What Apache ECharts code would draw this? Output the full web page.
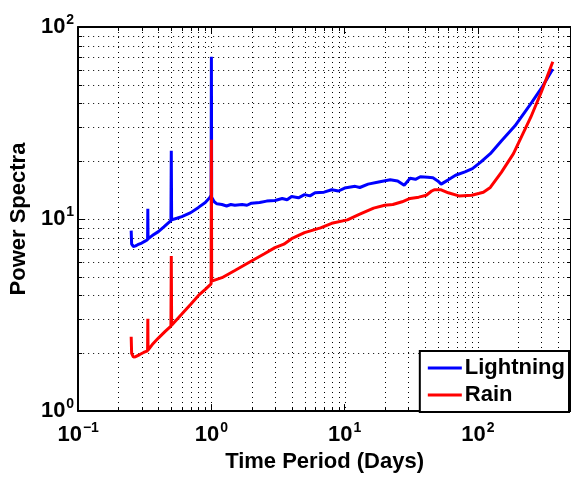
<!DOCTYPE html>
<html style="height: 100%">
<head>
    <meta charset="utf-8">
    <script src="https://cdn.jsdelivr.net/npm/echarts@6/dist/echarts.min.js"></script>
</head>
<body style="height: 100%; margin: 0; background: #fff">
    <div id="main" style="width: 571px; height: 478px;"></div>
    <script type="text/javascript">
        // [period (days), power]
        var lightning = [
            [0.25, 8.7], [0.252, 7.4], [0.26, 7.2], [0.27, 7.25], [0.28, 7.35], [0.30, 7.5], [0.32, 7.7],
            [0.332, 7.8], [0.3333, 11.3], [0.3346, 7.9], [0.36, 8.2], [0.40, 8.6], [0.44, 9.1], [0.48, 9.6],
            [0.497, 9.8], [0.5, 22.7], [0.503, 9.9], [0.55, 10.1], [0.6, 10.3], [0.7, 10.8], [0.8, 11.5],
            [0.9, 12.2], [0.97, 12.9], [0.995, 13.3], [1.0, 70], [1.005, 13.0], [1.05, 12.3], [1.1, 12.0],
            [1.2, 11.9], [1.3, 11.7], [1.4, 11.9], [1.5, 11.8], [1.7, 11.9], [1.85, 11.8], [2.0, 12.1],
            [2.3, 12.2], [2.6, 12.4], [3.0, 12.5], [3.4, 12.8], [3.7, 12.6], [4, 13.1], [4.5, 12.9],
            [5, 13.4], [5.5, 13.2], [6, 13.7], [7, 13.8], [8, 14.2], [9, 14.0], [10, 14.5], [12, 14.8],
            [13, 14.6], [15, 15.2], [18, 15.6], [22, 16.0], [25, 15.8], [28, 15.0], [31, 16.3], [34, 16.1],
            [37, 16.6], [42, 16.5], [46, 16.4], [50, 15.8], [53, 15.2], [60, 16.0], [68, 16.9], [80, 17.6],
            [91, 18.3], [105, 19.8], [124, 21.9], [150, 25.5], [190, 30.6], [253, 40.4], [300, 48], [365, 60.5]
        ];
        var rain = [
            [0.25, 2.44], [0.252, 2.0], [0.26, 1.91], [0.27, 1.92], [0.29, 1.97], [0.31, 2.02], [0.332, 2.06],
            [0.3333, 3.03], [0.3346, 2.08], [0.36, 2.22], [0.40, 2.4], [0.45, 2.6], [0.497, 2.77], [0.5, 6.43],
            [0.503, 2.8], [0.6, 3.2], [0.7, 3.6], [0.8, 4.0], [0.9, 4.3], [0.995, 4.6], [1.0, 25.9],
            [1.005, 4.75], [1.2, 4.95], [1.5, 5.4], [2.0, 6.05], [2.5, 6.6], [3.0, 7.1], [3.5, 7.4],
            [4.0, 7.9], [5, 8.5], [6.6, 9.0], [8, 9.5], [10.5, 9.9], [13, 10.6], [16.5, 11.4], [20, 11.8],
            [23, 11.9], [27, 12.3], [31, 12.8], [36, 13.0], [41, 13.3], [45, 14.0], [47, 14.2], [53, 14.2],
            [60, 13.7], [72, 13.2], [90, 13.3], [110, 13.8], [124, 14.6], [150, 17.5], [185, 21.9],
            [250, 34], [300, 46], [365, 66]
        ];
        var xGridValues = [];   // [value, y, isMajor]
        var yGridValues = [];   // [x, value, isMajor]
        for (var e = -1; e <= 2; e++) {
            for (var k = 1; k <= 9; k++) {
                var v = k * Math.pow(10, e);
                if (v < 500) xGridValues.push([v, 1, k === 1 ? 1 : 0]);
                if (e >= 0 && e < 2) yGridValues.push([0.1, k * Math.pow(10, e), k === 1 ? 1 : 0]);
            }
        }

        var font = 'Liberation Sans, Arial, Helvetica, sans-serif';

        function powLabel(value) {
            var lg = Math.log(value) / Math.LN10;
            var ex = Math.round(lg);
            if (Math.abs(lg - ex) > 1e-6) return '';
            return '{b|10}{s|' + String(ex).replace('-', '\u2212') + '}';
        }
        var labelRich = {
            b: { fontSize: 22, fontWeight: 'bold', fontFamily: font, color: '#000', lineHeight: 24 },
            s: { fontSize: 14, fontWeight: 'bold', fontFamily: font, color: '#000', padding: [0, 0, 14, 1] }
        };

        function gridRenderer(dir) {
            return function (params, api) {
                var cs = params.coordSys;
                var major = api.value(2) === 1;
                var kids = [];
                var dotted = { stroke: '#000', lineWidth: 1, lineDash: [1, 4] };
                var solid = { stroke: '#000', lineWidth: 1 };
                if (dir === 'x') {
                    var px = Math.round(api.coord([api.value(0), 1])[0]) + 0.5;
                    kids.push({ type: 'line', shape: { x1: px, y1: cs.y, x2: px, y2: cs.y + cs.height }, style: dotted });
                    if (!major) {
                        kids.push({ type: 'line', shape: { x1: px, y1: cs.y + cs.height, x2: px, y2: cs.y + cs.height - 4 }, style: solid });
                        kids.push({ type: 'line', shape: { x1: px, y1: cs.y, x2: px, y2: cs.y + 4 }, style: solid });
                    }
                } else {
                    var py = Math.round(api.coord([0.1, api.value(1)])[1]) + 0.5;
                    kids.push({ type: 'line', shape: { x1: cs.x, y1: py, x2: cs.x + cs.width, y2: py }, style: dotted });
                    if (!major) {
                        kids.push({ type: 'line', shape: { x1: cs.x, y1: py, x2: cs.x + 4, y2: py }, style: solid });
                        kids.push({ type: 'line', shape: { x1: cs.x + cs.width, y1: py, x2: cs.x + cs.width - 4, y2: py }, style: solid });
                    }
                }
                return { type: 'group', children: kids };
            };
        }

        var myChart = echarts.init(document.getElementById('main'));
        var axisLine = { show: true, onZero: false, lineStyle: { color: '#000', width: 2 } };
        var axisTick = { show: true, inside: true, length: 7, lineStyle: { color: '#000', width: 1 } };
        var option = {
            animation: false,
            backgroundColor: '#fff',
            grid: { left: 74, top: 27, right: -4, bottom: 63 },
            legend: {
                data: ['Lightning', 'Rain'],
                orient: 'vertical',
                right: 2,
                bottom: 66,
                backgroundColor: '#fff',
                borderColor: '#000',
                borderWidth: 2,
                borderRadius: 0,
                padding: [6, 4, 6, 8],
                itemGap: 5,
                itemWidth: 34,
                itemHeight: 3,
                icon: 'rect',
                textStyle: { fontSize: 22, fontWeight: 'bold', fontFamily: font, color: '#000', padding: [0, 0, 0, -2] }
            },
            xAxis: [{
                type: 'log',
                min: 0.1,
                max: 500,
                name: 'Time Period (Days)',
                nameLocation: 'middle',
                nameGap: 37,
                nameTextStyle: { fontSize: 22, fontWeight: 'bold', fontFamily: font, color: '#000' },
                axisLine: axisLine,
                axisTick: axisTick,
                splitLine: { show: false },
                axisLabel: { margin: 10, formatter: powLabel, rich: labelRich, showMaxLabel: false }
            }, {
                type: 'log',
                position: 'top',
                min: 0.1,
                max: 500,
                axisLine: axisLine,
                axisTick: axisTick,
                splitLine: { show: false },
                axisLabel: { show: false }
            }],
            yAxis: [{
                type: 'log',
                min: 1,
                max: 100,
                name: 'Power Spectra',
                nameLocation: 'middle',
                nameGap: 44,
                nameTextStyle: { fontSize: 22, fontWeight: 'bold', fontFamily: font, color: '#000' },
                axisLine: axisLine,
                axisTick: axisTick,
                splitLine: { show: false },
                axisLabel: { margin: 4, formatter: powLabel, rich: labelRich }
            }, {
                type: 'log',
                position: 'right',
                min: 1,
                max: 100,
                axisLine: axisLine,
                axisTick: axisTick,
                splitLine: { show: false },
                axisLabel: { show: false }
            }],
            series: [{
                type: 'custom',
                name: 'xgrid',
                silent: true,
                z: 1,
                renderItem: gridRenderer('x'),
                data: xGridValues
            }, {
                type: 'custom',
                name: 'ygrid',
                silent: true,
                z: 1,
                renderItem: gridRenderer('y'),
                data: yGridValues
            }, {
                name: 'Lightning',
                type: 'line',
                z: 3,
                showSymbol: false,
                symbol: 'none',
                itemStyle: { color: '#0000ff' },
                lineStyle: { color: '#0000ff', width: 3 },
                data: lightning
            }, {
                name: 'Rain',
                type: 'line',
                z: 3,
                showSymbol: false,
                symbol: 'none',
                itemStyle: { color: '#ff0000' },
                lineStyle: { color: '#ff0000', width: 3 },
                data: rain
            }]
        };
        myChart.setOption(option, true);
    </script>
</body>
</html>
